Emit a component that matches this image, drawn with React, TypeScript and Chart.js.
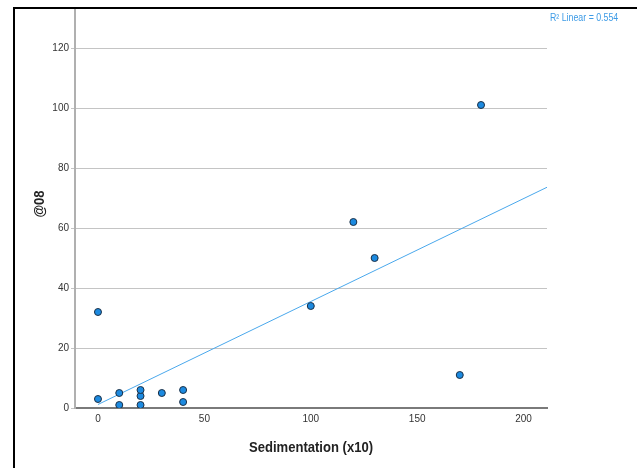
import React, { useEffect, useRef } from "react";
import { Chart, registerables } from "chart.js";

Chart.register(...registerables);

const sedimentation = [0, 0, 10, 10, 20, 20, 20, 30, 40, 40, 100, 120, 130, 170, 180];
const at08 = [3, 32, 1, 5, 1, 4, 6, 5, 2, 6, 34, 62, 50, 11, 101];
const xTicks = [0, 50, 100, 150, 200];
const yTicks = [0, 20, 40, 60, 80, 100, 120];
const xTitle = "Sedimentation (x10)";
const yTitle = "@08";
const r2Label = "R\u00B2 Linear = 0.554";

const X_MIN = -10.8;
const X_MAX = 211;
const Y_MIN = 0;
const Y_MAX = 133;

const FONT = "'Liberation Sans', Arial, sans-serif";

function fit(xs: number[], ys: number[]) {
  const n = xs.length;
  const mx = xs.reduce((a, b) => a + b, 0) / n;
  const my = ys.reduce((a, b) => a + b, 0) / n;
  let sxy = 0, sxx = 0;
  for (let i = 0; i < n; i++) {
    sxy += (xs[i] - mx) * (ys[i] - my);
    sxx += (xs[i] - mx) * (xs[i] - mx);
  }
  const slope = sxy / sxx;
  return { slope, intercept: my - slope * mx };
}

export default function App() {
  const ref = useRef<HTMLCanvasElement | null>(null);
  useEffect(() => {
    if (!ref.current) return;
    const { slope, intercept } = fit(sedimentation, at08);
    const lineStart = Math.max(0, -intercept / slope);
    const fitLine = [
      { x: lineStart, y: intercept + slope * lineStart },
      { x: X_MAX, y: intercept + slope * X_MAX },
    ];
    const points = sedimentation.map((x, i) => ({ x, y: at08[i] }));

    const decor = {
      id: "decor",
      afterDraw(chart: any) {
        const ctx = chart.ctx;
        const ca = chart.chartArea;
        ctx.save();
        ctx.strokeStyle = "#000";
        ctx.lineWidth = 2;
        ctx.beginPath();
        ctx.moveTo(14, 468);
        ctx.lineTo(14, 8);
        ctx.lineTo(637, 8);
        ctx.stroke();
        ctx.restore();

        // x title (slightly condensed)
        ctx.save();
        ctx.fillStyle = "#222";
        ctx.font = "bold 15px " + FONT;
        ctx.textAlign = "center";
        ctx.textBaseline = "middle";
        ctx.translate((ca.left + ca.right) / 2, 448);
        ctx.scale(0.87, 1);
        ctx.fillText(xTitle, 0, 0);
        ctx.restore();

        // y title
        ctx.save();
        ctx.fillStyle = "#222";
        ctx.font = "bold 15px " + FONT;
        ctx.textAlign = "center";
        ctx.textBaseline = "middle";
        ctx.translate(40, 204);
        ctx.rotate(-Math.PI / 2);
        ctx.scale(0.87, 1);
        ctx.fillText(yTitle, 0, 0);
        ctx.restore();

        // R² label
        ctx.save();
        ctx.fillStyle = "#3d9be6";
        ctx.font = "10px " + FONT;
        ctx.textAlign = "left";
        ctx.textBaseline = "middle";
        ctx.translate(550, 18);
        ctx.scale(0.88, 1);
        ctx.fillText(r2Label, 0, 0);
        ctx.restore();
      },
    };

    const chart = new Chart(ref.current, {
      type: "scatter",
      data: {
        datasets: [
          {
            type: "line",
            data: fitLine,
            borderColor: "#4aa8ec",
            borderWidth: 1,
            pointRadius: 0,
            fill: false,
            order: 2,
          } as any,
          {
            data: points,
            backgroundColor: "#1c8ae0",
            borderColor: "#1b2f45",
            borderWidth: 1,
            pointRadius: 3.5,
            order: 1,
          },
        ],
      },
      options: {
        animation: false,
        responsive: false,
        events: [],
        layout: { padding: { left: 0, right: 90, top: 9, bottom: 0 } },
        plugins: { legend: { display: false }, tooltip: { enabled: false } },
        scales: {
          x: {
            type: "linear",
            min: X_MIN,
            max: X_MAX,
            afterBuildTicks: (s: any) => {
              s.ticks = xTicks.map((v) => ({ value: v }));
            },
            afterFit: (s: any) => {
              s.height = 60;
            },
            grid: { display: false, drawTicks: false },
            border: { display: true, color: "#7a7a7a", width: 2 },
            ticks: {
              padding: 5,
              color: "#333",
              font: { family: FONT, size: 10 },
              maxRotation: 0,
            },
          },
          y: {
            type: "linear",
            min: Y_MIN,
            max: Y_MAX,
            afterBuildTicks: (s: any) => {
              s.ticks = yTicks.map((v) => ({ value: v }));
            },
            afterFit: (s: any) => {
              s.width = 75;
            },
            grid: {
              color: "#c4c4c4",
              lineWidth: 1,
              drawTicks: true,
              tickLength: 4,
            },
            border: { display: true, color: "#b0b0b0", width: 2 },
            ticks: {
              padding: 2,
              color: "#333",
              font: { family: FONT, size: 10 },
            },
          },
        },
      },
      plugins: [decor],
    });
    return () => chart.destroy();
  }, []);

  return (
    <div style={{ position: "absolute", left: 0, top: 0, width: 637, height: 468, background: "#fff" }}>
      <canvas ref={ref} width={637} height={468} style={{ display: "block" }} />
    </div>
  );
}
